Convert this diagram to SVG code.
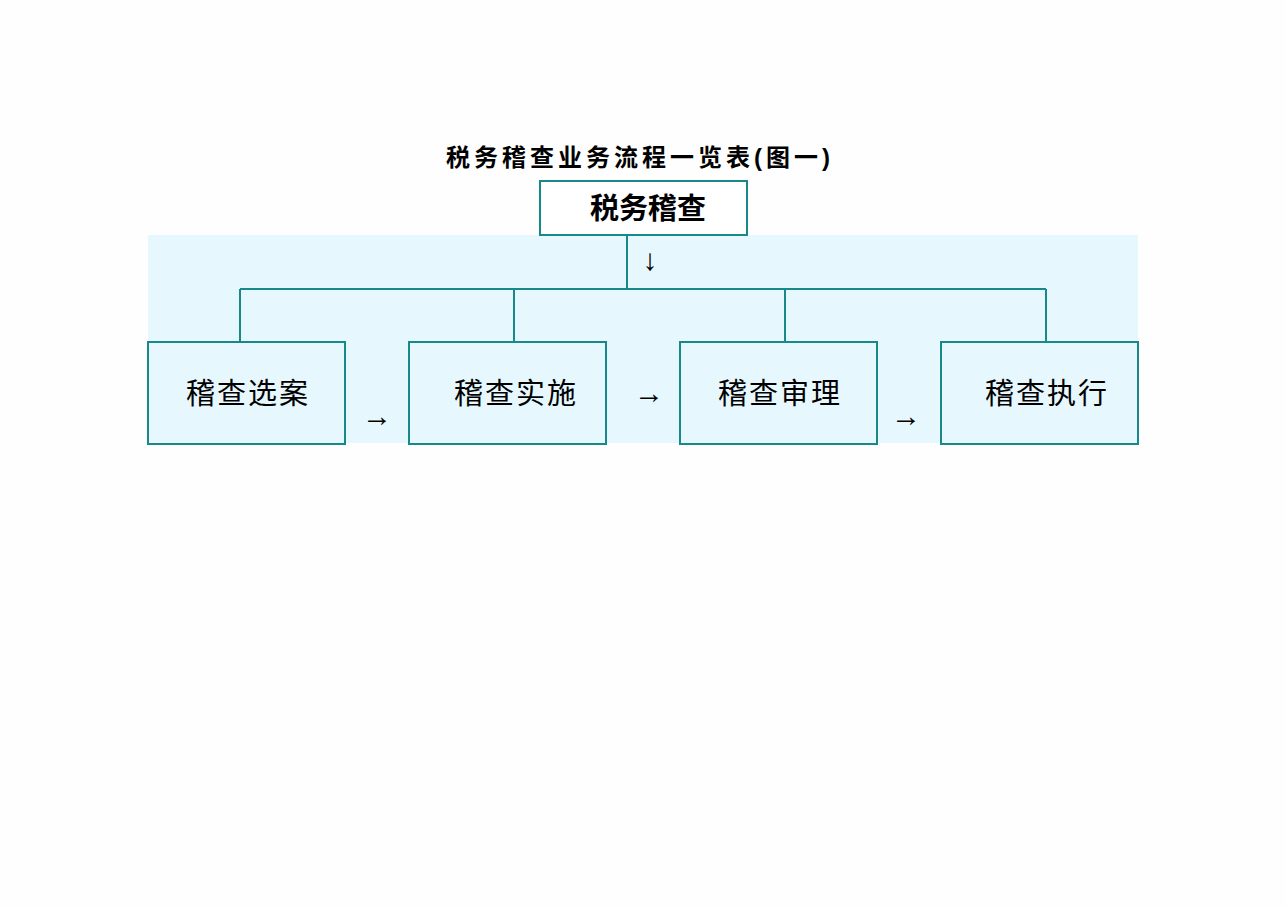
<svg xmlns="http://www.w3.org/2000/svg" width="1286" height="909" viewBox="0 0 1286 909">
<style>
.box{fill:#e6f7fd;stroke:#17898a;stroke-width:2}
.top{fill:#fff;stroke:#17898a;stroke-width:2}
.ln{stroke:#17898a;stroke-width:2;fill:none}
.t{font-family:"Liberation Sans","Noto Sans CJK SC",sans-serif;fill:#000;text-anchor:middle}
.lab{font-size:29px;letter-spacing:2px}
.ar{font-size:30px;font-weight:bold}
</style>
<rect x="0" y="0" width="1286" height="909" fill="#fefefe"/>
<rect x="148" y="235" width="990" height="208" fill="#e6f7fd"/>
<text class="t" x="640" y="166" font-size="24" font-weight="bold" letter-spacing="4">税务稽查业务流程一览表(图一)</text>
<g id="connectors">
<path class="ln" d="M627 235V289M240 289H1046M240 289V342M514 289V342M785 289V342M1046 289V342"/>
<text class="t ar" x="650" y="270">↓</text>
<text class="t ar" x="377" y="426">→</text>
<text class="t ar" x="649" y="403">→</text>
<text class="t ar" x="906" y="426">→</text>
</g>
<g id="n0"><rect class="top" x="540" y="181" width="207" height="54"/><text class="t" x="648" y="219" font-size="29" font-weight="bold">税务稽查</text></g>
<g id="n1"><rect class="box" x="148" y="342" width="197" height="102"/><text class="t lab" x="248" y="404">稽查选案</text></g>
<g id="n2"><rect class="box" x="409" y="342" width="197" height="102"/><text class="t lab" x="516" y="404">稽查实施</text></g>
<g id="n3"><rect class="box" x="680" y="342" width="197" height="102"/><text class="t lab" x="780" y="404">稽查审理</text></g>
<g id="n4"><rect class="box" x="941" y="342" width="197" height="102"/><text class="t lab" x="1047" y="404">稽查执行</text></g>
</svg>
